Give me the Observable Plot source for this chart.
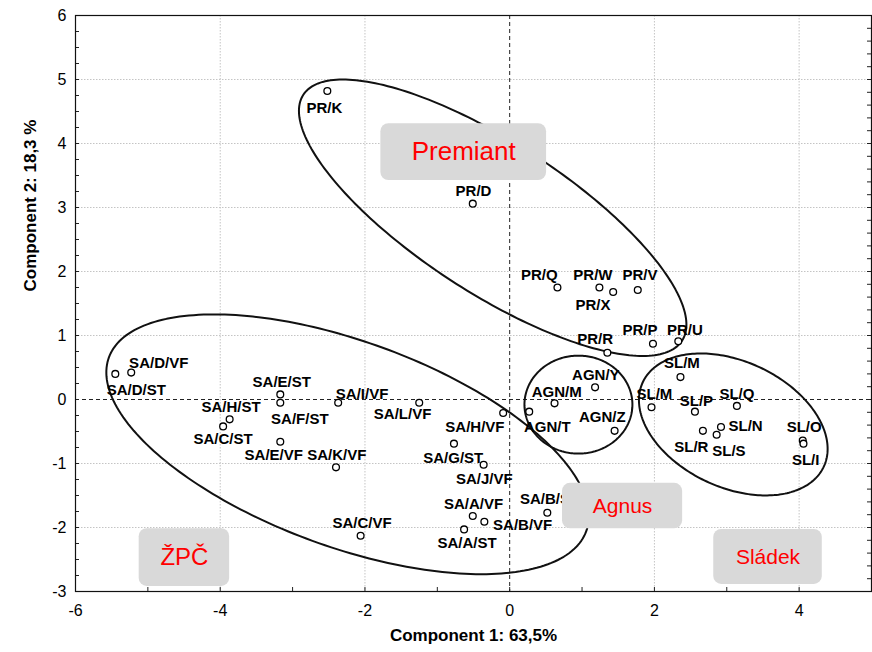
<!DOCTYPE html>
<html><head><meta charset="utf-8">
<script src="https://cdn.jsdelivr.net/npm/d3@7"></script>
<script src="https://cdn.jsdelivr.net/npm/@observablehq/plot@0.6"></script>
<style>
body{margin:0;background:#fff;}
#chart svg{font-family:"Liberation Sans",Arial,sans-serif;}
</style>
</head><body><div id="chart"></div>
<script>
// ---- sample scores ----
const names = ["PR/K","PR/D","PR/Q","PR/W","PR/X","PR/V","PR/P","PR/U","PR/R",
  "AGN/Y","AGN/M","AGN/T","AGN/Z",
  "SL/M","SL/M","SL/P","SL/Q","SL/R","SL/N","SL/S","SL/O","SL/I",
  "SA/D/ST","SA/D/VF","SA/E/ST","SA/F/ST","SA/H/ST","SA/C/ST","SA/E/VF","SA/K/VF",
  "SA/I/VF","SA/L/VF","SA/H/VF","SA/G/ST","SA/J/VF","SA/A/VF","SA/B/VF","SA/A/ST","SA/C/VF","SA/B/ST"];
const pcX = [-2.52,-0.51,0.66,1.24,1.43,1.77,1.98,2.33,1.35,
  1.18,0.62,0.27,1.45,
  2.36,1.96,2.56,3.14,2.67,2.92,2.86,4.05,4.06,
  -5.45,-5.23,-3.17,-3.17,-3.87,-3.96,-3.17,-2.40,
  -2.37,-1.25,-0.09,-0.77,-0.36,-0.51,-0.35,-0.63,-2.06,0.52];
const pcY = [4.82,3.06,1.75,1.75,1.68,1.71,0.87,0.91,0.73,
  0.19,-0.06,-0.19,-0.49,
  0.35,-0.12,-0.19,-0.10,-0.49,-0.43,-0.55,-0.64,-0.69,
  0.40,0.42,0.08,-0.05,-0.31,-0.42,-0.66,-1.06,
  -0.05,-0.05,-0.21,-0.69,-1.02,-1.82,-1.91,-2.03,-2.13,-1.77];
// label anchor positions (data units)
const labelX = [-2.56,-0.50,0.41,1.15,1.15,1.80,1.80,2.42,1.18,
  1.19,0.65,0.52,1.28,
  2.38,2.00,2.58,3.14,2.51,3.26,3.03,4.07,4.09,
  -5.16,-4.85,-3.15,-2.90,-3.85,-3.96,-3.26,-2.39,
  -2.04,-1.48,-0.48,-0.78,-0.35,-0.50,0.18,-0.59,-2.04,0.55];
const labelY = [4.55,3.25,1.95,1.94,1.47,1.94,1.08,1.09,0.94,
  0.375,0.11,-0.44,-0.27,
  0.56,0.08,-0.02,0.09,-0.75,-0.42,-0.80,-0.44,-0.95,
  0.14,0.56,0.27,-0.31,-0.125,-0.625,-0.875,-0.875,
  0.09,-0.23,-0.44,-0.91,-1.25,-1.64,-1.97,-2.25,-1.94,-1.56];

// ---- group ellipses (centre in data units, semi-axes in x-units, tilt in degrees) ----
const ellName  = ["Premiant","Agnus","Sládek","ŽPČ"];
const ellCx    = [-0.235, 0.95, 3.09, -2.24];
const ellCy    = [2.84, -0.08, -0.39, -0.70];
const ellA     = [3.12, 0.746, 1.38, 3.51];
const ellB     = [1.04, 0.677, 0.87, 1.42];
const ellAngle = [33, 0, 25, 20];

// ---- group name boxes ----
const boxName = ["Premiant","Agnus","Sládek","ŽPČ"];
const boxX1 = [-1.78, 0.73, 2.82, -5.12];
const boxX2 = [0.51, 2.39, 4.32, -3.87];
const boxY1 = [3.42, -2.02, -2.89, -2.92];
const boxY2 = [4.31, -1.31, -2.03, -2.02];
const boxFont = [26, 21, 21, 24];

const xTicks = [-6,-4,-2,0,2,4];
const yTicks = [-3,-2,-1,0,1,2,3,4,5,6];
const xDomain = [-6,5], yDomain = [-3,6];

const W = 872, H = 652, ML = 75, MR = 1, MT = 15, MB = 61;
const kx = (W-ML-MR)/(xDomain[1]-xDomain[0]);
const ky = (H-MT-MB)/(yDomain[1]-yDomain[0]);

const points = names.map((n,i)=>({n, x:pcX[i], y:pcY[i], lx:labelX[i], ly:labelY[i]}));
const ellPts = [];
ellName.forEach((g,i)=>{
  const th = ellAngle[i]*Math.PI/180, N = 240;
  for (let j=0;j<=N;j++){
    const t = 2*Math.PI*j/N;
    const ox = ellA[i]*kx*Math.cos(t)*Math.cos(th) - ellB[i]*kx*Math.sin(t)*Math.sin(th);
    const oy = ellA[i]*kx*Math.cos(t)*Math.sin(th) + ellB[i]*kx*Math.sin(t)*Math.cos(th);
    ellPts.push({g, x: ellCx[i] + ox/kx, y: ellCy[i] - oy/ky});
  }
});
const boxes = boxName.map((n,i)=>({n, x1:boxX1[i], x2:boxX2[i], y1:boxY1[i], y2:boxY2[i], cx:(boxX1[i]+boxX2[i])/2, cy:(boxY1[i]+boxY2[i])/2, fs:boxFont[i]}));

const tl = 4; // tick length px
const leftTicks = d3.range(-3, 6.001, 0.25);
const rightTicks = d3.range(-3, 6.001, 0.2);
const bottomTicks = d3.range(-6, 5.001, 1);
const fmt = d => String(d);

const plot = Plot.plot({
  width: W, height: H,
  marginLeft: ML, marginRight: MR, marginTop: MT, marginBottom: MB,
  x: {domain: xDomain},
  y: {domain: yDomain},
  marks: [
    Plot.ruleY(yTicks.filter(d=>d!==0 && d!==-3 && d!==6), {stroke:"#c4c4c4", strokeDasharray:"1.5,1.5"}),
    Plot.ruleX(xTicks.filter(d=>d!==0 && d!==-6), {stroke:"#c4c4c4", strokeDasharray:"1.5,1.5"}),
    Plot.ruleY([0], {stroke:"#222", strokeDasharray:"4,3"}),
    Plot.ruleX([0], {stroke:"#222", strokeDasharray:"4,3"}),
    Plot.line(ellPts, {x:"x", y:"y", z:"g", stroke:"#111", strokeWidth:2, curve:"linear"}),
    Plot.dot(points, {x:"x", y:"y", r:3.4, stroke:"#000", fill:"#fff", strokeWidth:1.3}),
    Plot.text(points, {x:"lx", y:"ly", text:"n", fontSize:15, fontWeight:"bold", fill:"#000", textAnchor:"middle", lineAnchor:"middle"}),
    Plot.rect(boxes, {x1:"x1", x2:"x2", y1:"y1", y2:"y2", fill:"#d9d9d9", rx:8, ry:8}),
    Plot.text(boxes, {x:"cx", y:"cy", text:"n", fill:"#ff0000", fontSize:d=>d.fs, lineAnchor:"middle"}),
    Plot.ruleY(leftTicks, {x1: xDomain[0], x2: xDomain[0] + tl/kx, stroke:"#222"}),
    Plot.ruleY(rightTicks, {x1: xDomain[1] - tl/kx, x2: xDomain[1], stroke:"#222"}),
    Plot.ruleX(bottomTicks, {y1: yDomain[0], y2: yDomain[0] + tl/ky, stroke:"#222"}),
    Plot.frame({stroke:"#111", strokeWidth:1.2}),
    Plot.axisX(xTicks, {tickSize:0, tickPadding:13, fontSize:16, fill:"#000", label:null, tickFormat: fmt}),
    Plot.axisY(yTicks, {tickSize:0, tickPadding:9, fontSize:16, fill:"#000", label:null, tickFormat: fmt}),
    Plot.text(["Component 1: 63,5%"], {frameAnchor:"bottom", dy:49, fontSize:17, fontWeight:"bold", fill:"#000"}),
    Plot.text(["Component 2: 18,3 %"], {frameAnchor:"left", dx:-45, dy:-12, rotate:-90, fontSize:17, fontWeight:"bold", fill:"#000"})
  ]
});
document.getElementById("chart").appendChild(plot);
</script>
</body></html>
